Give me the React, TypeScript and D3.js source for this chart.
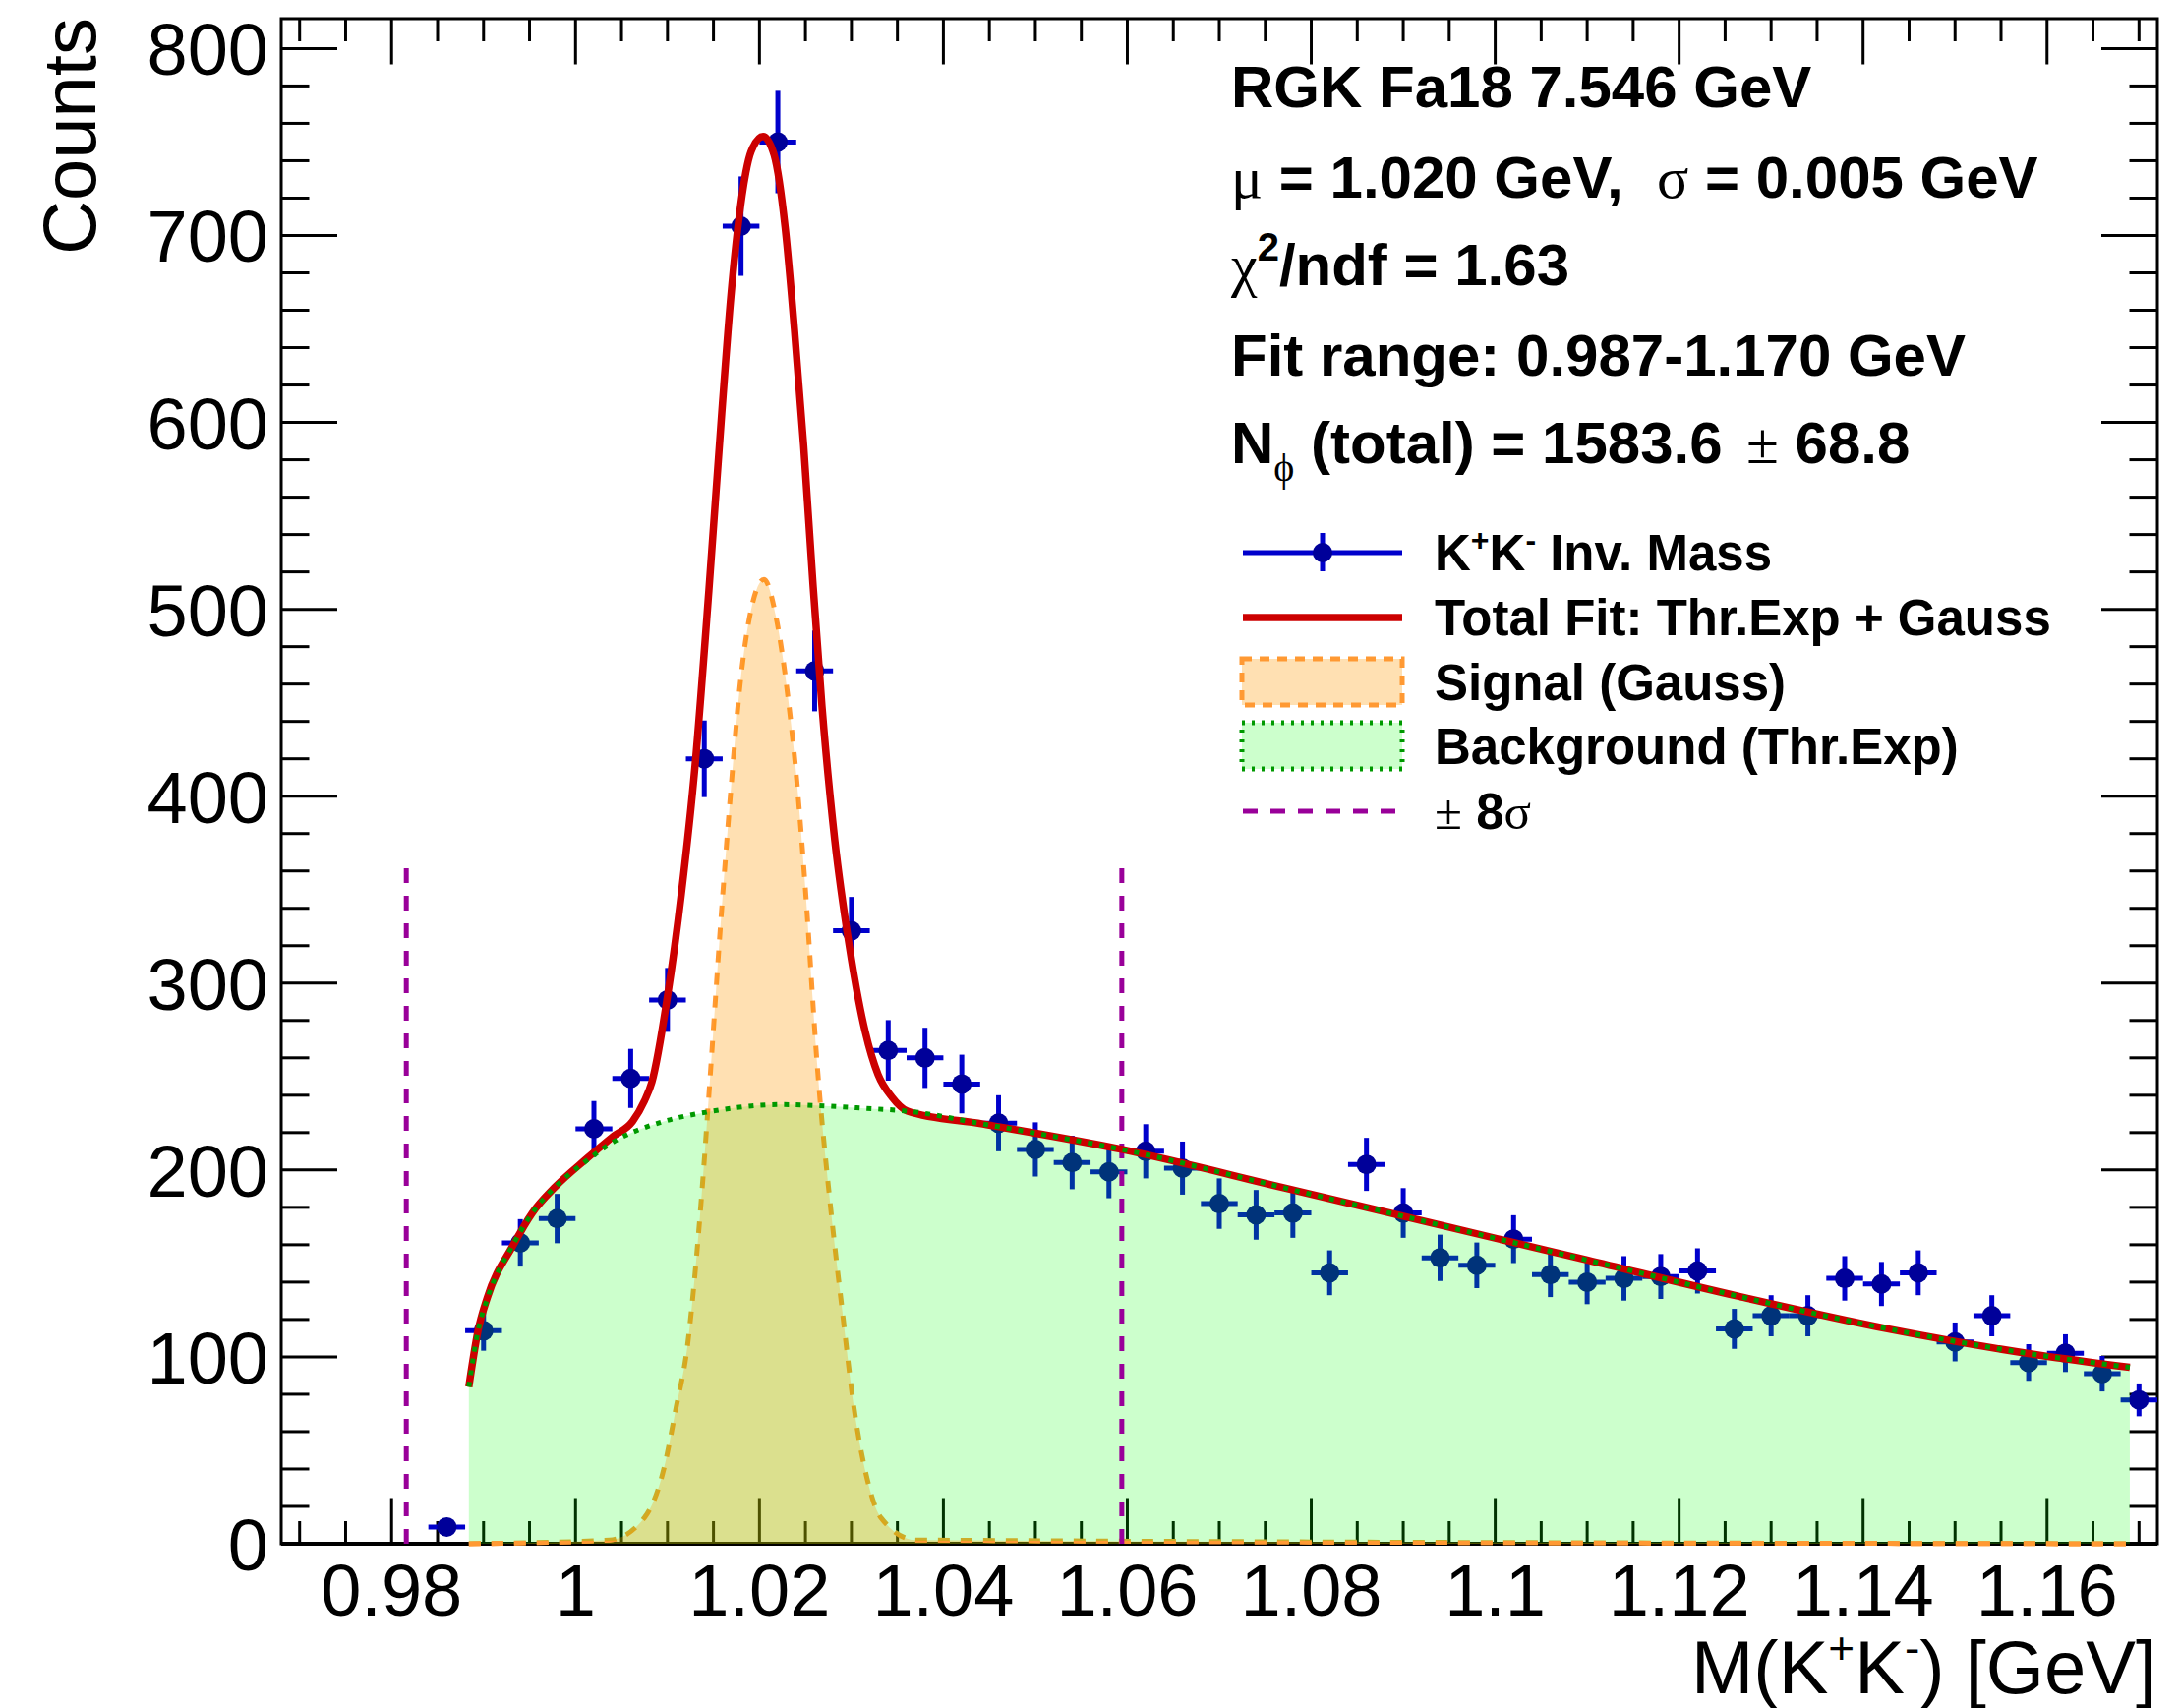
import React from 'react';
import * as d3 from 'd3';

// K+K- invariant mass histogram (bin centres, 4 MeV bins)
const massBins = [
  0.986, 0.990, 0.994, 0.998, 1.002, 1.006, 1.010, 1.014, 1.018, 1.022,
  1.026, 1.030, 1.034, 1.038, 1.042, 1.046, 1.050, 1.054, 1.058, 1.062,
  1.066, 1.070, 1.074, 1.078, 1.082, 1.086, 1.090, 1.094, 1.098, 1.102,
  1.106, 1.110, 1.114, 1.118, 1.122, 1.126, 1.130, 1.134, 1.138, 1.142,
  1.146, 1.150, 1.154, 1.158, 1.162, 1.166, 1.170,
];
const counts = [
  9, 114, 161, 174, 222, 249, 291, 420, 705, 750,
  467, 328, 264, 260, 246, 225, 211, 204, 199, 210,
  201, 182, 176, 177, 145, 203, 177, 153, 149, 163,
  144, 140, 142, 143, 146, 115, 122, 122, 142, 139,
  145, 108, 122, 97, 102, 91, 77,
];
const countErrors = [
  3, 10.7, 12.7, 13.2, 14.9, 15.8, 17.1, 20.5, 26.6, 27.4,
  21.6, 18.1, 16.2, 16.1, 15.7, 15, 14.5, 14.3, 14.1, 14.5,
  14.2, 13.5, 13.3, 13.3, 12, 14.2, 13.3, 12.4, 12.2, 12.8,
  12, 11.8, 11.9, 12, 12.1, 10.7, 11, 11, 11.9, 11.8,
  12, 10.4, 11, 9.8, 10.1, 9.5, 8.8,
];
const binHalfWidth = 0.002;

// background (threshold exponential)
const bkgMass = [
  0.9884, 0.9894, 0.9904, 0.9932, 0.9953, 0.9978, 1.0012, 1.0041, 1.0096, 1.0143,
  1.0223, 1.0261, 1.0315, 1.0361, 1.0443, 1.0594, 1.0771, 1.0936, 1.1100, 1.1264,
  1.1428, 1.1592, 1.1690,
];
const bkgCounts = [
  84, 114, 131, 160, 177, 191, 205, 215, 226, 231,
  235, 234.5, 233, 231.5, 224.6, 211, 190.4, 171, 151.8, 132.5,
  114.9, 100.9, 94.4,
];

// total fit
const totalMass = [
  0.9884, 0.9894, 0.9904, 0.9932, 0.9953, 0.9978, 1.0012, 1.0041, 1.0062, 1.0075,
  1.0083, 1.0100, 1.0115, 1.0130, 1.0145, 1.0159, 1.0169, 1.0179, 1.0191, 1.0204,
  1.0216, 1.0228, 1.0238, 1.0248, 1.0258, 1.0268, 1.0282, 1.0297, 1.0315, 1.0329,
  1.0344, 1.0361, 1.0443, 1.0594, 1.0771, 1.0936, 1.1100, 1.1264, 1.1428, 1.1592,
  1.1690,
];
const totalCounts = [
  84, 114, 131.6, 159.6, 177, 191, 206, 218, 226, 237,
  247, 293, 347.5, 416.5, 510, 605, 668, 714, 745, 753,
  743, 704, 650, 588, 515, 448, 376, 322, 274, 251,
  239, 231.5, 224.6, 211, 190.4, 171, 151.8, 132.5, 114.9, 100.9,
  94.4,
];

// signal gaussian
const sigMass = [
  0.9884, 1.0037, 1.0075, 1.0096, 1.0109, 1.0122, 1.0130, 1.0138, 1.0145, 1.0159,
  1.0169, 1.0179, 1.0191, 1.0205, 1.0218, 1.0231, 1.0241, 1.0250, 1.0263, 1.0278,
  1.0290, 1.0303, 1.0316, 1.0332, 1.0370, 1.1690,
];
const sigCounts = [
  0, 2, 14, 40, 72, 107, 145, 192, 240, 340,
  404, 460, 500, 516, 496, 453, 406, 350, 255, 177,
  125, 72, 37, 14, 2, 0,
];

// +-8 sigma window
const sigmaLines = [0.9816, 1.0594];
const sigmaLineTop = 368;

const xTickLabels = ['0.98', '1', '1.02', '1.04', '1.06', '1.08', '1.1', '1.12', '1.14', '1.16'];
const yTickLabels = ['0', '100', '200', '300', '400', '500', '600', '700', '800'];

const SANS = '"Liberation Sans", Arial, Helvetica, sans-serif';
const SERIF = '"Liberation Serif", "Times New Roman", serif';

const BLUE = '#0000cc';
const BLUE_MARKER = '#000099';
const RED = '#cc0000';
const ORANGE = '#ff9933';
const GREEN = '#009900';
const MAGENTA = '#990099';

export default function App() {
  const width = 2217;
  const height = 1737;
  const left = 286, right = 2194, top = 19, bottom = 1570;

  const x = d3.scaleLinear().domain([0.968, 1.172]).range([left, right]);
  const y = d3.scaleLinear().domain([0, 816]).range([bottom, top]);

  type P = [number, number];
  const line = d3.line<P>().x((d) => x(d[0])).y((d) => y(d[1])).curve(d3.curveMonotoneX);
  const area = d3
    .area<P>()
    .x((d) => x(d[0]))
    .y0(y(0))
    .y1((d) => y(d[1]))
    .curve(d3.curveMonotoneX);

  const bkgPts: P[] = bkgMass.map((m, i) => [m, bkgCounts[i]]);
  const totPts: P[] = totalMass.map((m, i) => [m, totalCounts[i]]);
  const sigPts: P[] = sigMass.map((m, i) => [m, sigCounts[i]]);
  const sigPath = line(sigPts) || '';

  const xMajor = xTickLabels.map(Number);
  const xMinor = d3.range(0, 41).map((i) => 0.97 + i * 0.005);
  const yMajor = yTickLabels.map(Number);
  const yMinor = d3.range(0, 41).map((i) => i * 20).filter((v) => v <= 816);

  const majX = 46.5, minX = 23;
  const majY = 57, minY = 28.5;

  const legendY = [562, 628, 694, 759, 825];
  const legX = 1459;

  return (
    <svg
      width={width}
      height={height}
      viewBox={`0 0 ${width} ${height}`}
      style={{ position: 'absolute', left: 0, top: 0, background: '#fff' }}
      fontFamily={SANS}
    >
      <defs>
        <clipPath id="baseStrip">
          <rect x={left} y={bottom - 3} width={right - left} height={8} />
        </clipPath>
      </defs>
      <rect x={0} y={0} width={width} height={height} fill="#fff" />

      {/* frame and ticks (drawn first, the fills tint them) */}
      <rect x={left} y={top} width={right - left} height={bottom - top} fill="none" stroke="#000" strokeWidth={3} />
      <line x1={left} x2={right} y1={bottom} y2={bottom} stroke="#000" strokeWidth={4} />
      <g stroke="#000" strokeWidth={3}>
        {xMinor.map((v, i) => {
          const isMaj = xMajor.some((m) => Math.abs(m - v) < 1e-6);
          const len = isMaj ? majX : minX;
          return (
            <g key={`xt${i}`}>
              <line x1={x(v)} x2={x(v)} y1={bottom} y2={bottom - len} />
              <line x1={x(v)} x2={x(v)} y1={top} y2={top + len} />
            </g>
          );
        })}
        {yMinor.map((v, i) => {
          const isMaj = yMajor.includes(v);
          const len = isMaj ? majY : minY;
          return (
            <g key={`yt${i}`}>
              <line x1={left} x2={left + len} y1={y(v)} y2={y(v)} />
              <line x1={right} x2={right - len} y1={y(v)} y2={y(v)} />
            </g>
          );
        })}
      </g>

      {/* signal outline (under the fills) */}
      <path d={sigPath} fill="none" stroke={ORANGE} strokeWidth={5} strokeDasharray="12 11" />

      {/* data points */}
      <g>
        {massBins.map((m, i) => {
          const c = counts[i];
          const e = countErrors[i];
          return (
            <g key={`pt${i}`}>
              <line x1={x(m)} x2={x(m)} y1={y(c - e)} y2={y(c + e)} stroke={BLUE} strokeWidth={5} />
              <line
                x1={x(m - binHalfWidth)}
                x2={x(m + binHalfWidth)}
                y1={y(c)}
                y2={y(c)}
                stroke={BLUE}
                strokeWidth={5}
              />
              <circle cx={x(m)} cy={y(c)} r={10} fill={BLUE_MARKER} />
            </g>
          );
        })}
      </g>

      {/* background fill and signal fill */}
      <path d={area(bkgPts) || ''} fill="rgba(0,255,0,0.2)" />
      <path d={area(sigPts) || ''} fill="rgba(255,153,0,0.3)" />

      {/* the signal's flat part sits on top of the x axis */}
      <path
        d={sigPath}
        fill="none"
        stroke={ORANGE}
        strokeWidth={5}
        strokeDasharray="12 11"
        clipPath="url(#baseStrip)"
      />

      {/* +-8 sigma lines */}
      {sigmaLines.map((m, i) => (
        <line
          key={`sl${i}`}
          x1={x(m)}
          x2={x(m)}
          y1={y(0)}
          y2={y(sigmaLineTop)}
          stroke={MAGENTA}
          strokeWidth={5}
          strokeDasharray="15 13"
        />
      ))}

      {/* total fit and background curve */}
      <path d={line(totPts) || ''} fill="none" stroke={RED} strokeWidth={7.5} strokeLinejoin="round" />
      <path
        d={line(bkgPts) || ''}
        fill="none"
        stroke={GREEN}
        strokeWidth={5}
        strokeDasharray="5 7"
      />

      {/* axis labels */}
      <g fontSize={74} fill="#000">
        {xTickLabels.map((t, i) => (
          <text key={`xl${i}`} x={x(xMajor[i])} y={1643} textAnchor="middle">
            {t}
          </text>
        ))}
        {yTickLabels.map((t, i) => (
          <text key={`yl${i}`} x={273} y={y(yMajor[i]) + 27} textAnchor="end">
            {t}
          </text>
        ))}
      </g>

      <text x={2193} y={1722} fontSize={76} textAnchor="end">
        M(K
        <tspan fontSize={46} dy={-30}>+</tspan>
        <tspan dy={30}>K</tspan>
        <tspan fontSize={46} dy={-30}>-</tspan>
        <tspan dy={30}>) [GeV]</tspan>
      </text>
      <text transform="rotate(-90)" x={-18} y={97} fontSize={76} textAnchor="end">
        Counts
      </text>

      {/* info block */}
      <g fontSize={60} fontWeight="bold" fill="#000">
        <text x={1252} y={109}>RGK Fa18 7.546 GeV</text>
        <text x={1252} y={201}>
          <tspan fontFamily={SERIF} fontWeight="normal">μ</tspan>
          <tspan> = 1.020 GeV,</tspan>
          <tspan x={1685} fontFamily={SERIF} fontWeight="normal">σ</tspan>
          <tspan> = 0.005 GeV</tspan>
        </text>
        <text x={1252} y={290}>
          <tspan fontFamily={SERIF} fontWeight="normal">χ</tspan>
          <tspan fontSize={40} dy={-25}>2</tspan>
          <tspan dy={25}>/ndf = 1.63</tspan>
        </text>
        <text x={1252} y={382}>Fit range: 0.987-1.170 GeV</text>
        <text x={1252} y={471}>
          N
          <tspan fontFamily={SERIF} fontWeight="normal" fontSize={40} dy={18}>ϕ</tspan>
          <tspan dy={-18}> (total) = 1583.6</tspan>
          <tspan x={1776} fontFamily={SERIF} fontWeight="normal">±</tspan>
          <tspan> 68.8</tspan>
        </text>
      </g>

      {/* legend */}
      <g>
        <line x1={1264} x2={1426} y1={legendY[0]} y2={legendY[0]} stroke={BLUE} strokeWidth={5} />
        <line x1={1345} x2={1345} y1={legendY[0] - 20} y2={legendY[0] + 19} stroke={BLUE} strokeWidth={5} />
        <circle cx={1345} cy={legendY[0]} r={10} fill={BLUE_MARKER} />

        <line x1={1264} x2={1426} y1={legendY[1]} y2={legendY[1]} stroke={RED} strokeWidth={7.5} />

        <rect
          x={1263}
          y={legendY[2] - 24}
          width={163}
          height={47}
          fill="rgba(255,153,0,0.3)"
          stroke={ORANGE}
          strokeWidth={5}
          strokeDasharray="10 8"
        />
        <rect
          x={1263}
          y={legendY[3] - 24}
          width={163}
          height={47}
          fill="rgba(0,255,0,0.2)"
          stroke={GREEN}
          strokeWidth={5}
          strokeDasharray="3 7"
        />

        <line
          x1={1264}
          x2={1420}
          y1={legendY[4]}
          y2={legendY[4]}
          stroke={MAGENTA}
          strokeWidth={5}
          strokeDasharray="15 13"
        />

        <g fontSize={51} fontWeight="bold" fill="#000">
          <text x={legX} y={legendY[0] + 18}>
            K<tspan fontSize={32} dy={-20}>+</tspan>
            <tspan dy={20}>K</tspan>
            <tspan fontSize={32} dy={-20}>-</tspan>
            <tspan dy={20}> Inv. Mass</tspan>
          </text>
          <text x={legX} y={legendY[1] + 18}>Total Fit: Thr.Exp + Gauss</text>
          <text x={legX} y={legendY[2] + 18}>Signal (Gauss)</text>
          <text x={legX} y={legendY[3] + 18}>Background (Thr.Exp)</text>
          <text x={legX} y={legendY[4] + 18}>
            <tspan fontFamily={SERIF} fontWeight="normal">±</tspan>
            <tspan> 8</tspan>
            <tspan fontFamily={SERIF} fontWeight="normal">σ</tspan>
          </text>
        </g>
      </g>
    </svg>
  );
}
